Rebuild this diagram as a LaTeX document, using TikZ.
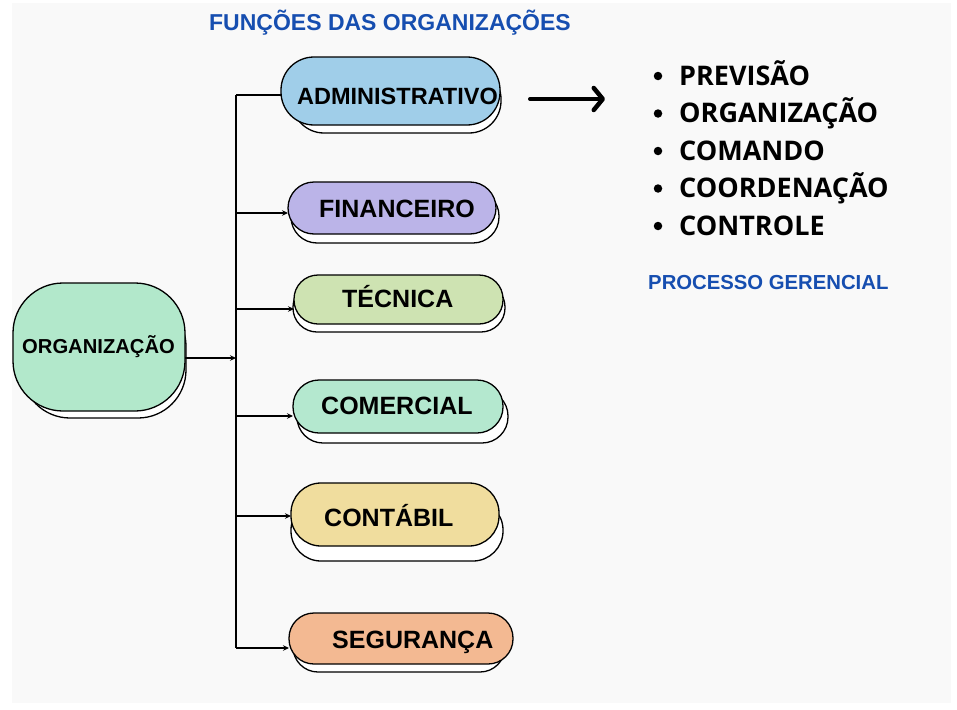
\documentclass[tikz,border=0pt]{standalone}
\usepackage{fontspec}
\setmainfont{Liberation Sans}
\newfontfamily\listfont{Open Sans}
\usetikzlibrary{arrows.meta}
\definecolor{bgc}{RGB}{249,249,249}
\definecolor{ttl}{RGB}{22,78,176}
\definecolor{cadm}{RGB}{160,206,233}
\definecolor{cfin}{RGB}{187,180,232}
\definecolor{ctec}{RGB}{206,227,178}
\definecolor{ccom}{RGB}{180,232,207}
\definecolor{ccont}{RGB}{240,221,158}
\definecolor{cseg}{RGB}{243,185,146}
\definecolor{corg}{RGB}{178,232,203}
\tikzset{
  box/.style={draw=black, line width=1.3pt, inner sep=0pt, outer sep=0pt},
  shadowbox/.style={draw=black, fill=white, line width=1.3pt},
  lbl/.style={anchor=base west, inner sep=0pt, font=\bfseries\fontsize{25}{28}\selectfont},
  conn/.style={line width=1.3pt},
  tip/.style={conn, -{Stealth[length=6pt,width=5.5pt]}},
  item/.style={anchor=base west, inner sep=0pt, font=\listfont\bfseries\fontsize{27}{30}\selectfont},
  bul/.style={circle, fill=black, inner sep=0pt, minimum size=8.5pt}
}
\begin{document}
\begin{tikzpicture}[x=1pt,y=-1pt]
\useasboundingbox (0,0) rectangle (957,709);
\fill[white] (0,0) rectangle (957,709);
\fill[bgc] (12,3) rectangle (951,703);

% title
\node[anchor=base, inner sep=0pt, text=ttl, font=\bfseries\fontsize{23}{26}\selectfont] (title) at (390,31) {FUNÇÕES DAS ORGANIZAÇÕES};

% shadows
\draw[shadowbox, rounded corners=48pt] (22,298) rectangle (186,418);
\draw[shadowbox, rounded corners=32pt] (292,67) rectangle (501,133);
\draw[shadowbox, rounded corners=26pt] (291,190) rectangle (499,243);
\draw[shadowbox, rounded corners=24pt] (293,283) rectangle (505,332);
\draw[shadowbox, rounded corners=26pt] (297,390) rectangle (508,443);
\draw[shadowbox, rounded corners=30pt] (291,500) rectangle (503,561);
\draw[shadowbox, rounded corners=25pt] (293,622) rectangle (505,672);

% boxes
\node[box, fill=corg, rounded corners=50pt, minimum width=172pt, minimum height=128pt] (org) at (99,347) {};
\node[box, fill=cadm, rounded corners=33pt, minimum width=219pt, minimum height=68pt] (adm) at (390.5,91) {};
\node[box, fill=cfin, rounded corners=26pt, minimum width=208pt, minimum height=52pt] (fin) at (392,208) {};
\node[box, fill=ctec, rounded corners=24pt, minimum width=209pt, minimum height=49pt] (tec) at (398.5,299.5) {};
\node[box, fill=ccom, rounded corners=26pt, minimum width=210pt, minimum height=53pt] (com) at (398,406.5) {};
\node[box, fill=ccont, rounded corners=30pt, minimum width=208pt, minimum height=63pt] (cont) at (395,514.5) {};
\node[box, fill=cseg, rounded corners=25pt, minimum width=224pt, minimum height=51pt] (seg) at (401,638.5) {};

% labels
\node[lbl, font=\bfseries\fontsize{20.2}{24}\selectfont] (orgT) at (22,353) {ORGANIZAÇÃO};
\node[lbl, font=\bfseries\fontsize{23.5}{26}\selectfont] (admT) at (297,104) {ADMINISTRATIVO};
\node[lbl] (finT) at (319,217) {FINANCEIRO};
\node[lbl] (tecT) at (342,307) {TÉCNICA};
\node[lbl] (comT) at (321,414) {COMERCIAL};
\node[lbl] (contT) at (324,526) {CONTÁBIL};
\node[lbl] (segT) at (332,648) {SEGURANÇA};

% connectors
\coordinate (top) at (236,95);
\coordinate (bot) at (236,648);
\draw[conn] (top) -- (bot);
\draw[conn] (top) -- (adm.west |- top);
\draw[tip] ([yshift=-11pt]org.east) -- ([yshift=-11pt]org.east -| top);
\draw[tip] ([yshift=-5pt]fin.west -| top) -- ([yshift=-5pt]fin.west);
\draw[tip] ([yshift=-9.5pt]tec.west -| top) -- ([yshift=-9.5pt]tec.west);
\draw[tip] ([yshift=-9.5pt]com.west -| top) -- ([yshift=-9.5pt]com.west);
\draw[tip] ([yshift=-1.5pt]cont.west -| top) -- ([yshift=-1.5pt]cont.west);
\draw[tip] (bot) -- (bot -| seg.west);

% big arrow
\coordinate (a1) at (530,99);
\coordinate (a2) at (605,99);
\draw[line width=4pt, line cap=round, -{Straight Barb[length=9pt,width=22pt,line width=4.5pt, round]}] (a1) -- (a2);

% list
\node[item] (i1) at (679,85) {PREVISÃO};
\node[item] (i2) at (679,122.5) {ORGANIZAÇÃO};
\node[item] (i3) at (679,160) {COMANDO};
\node[item] (i4) at (679,197.5) {COORDENAÇÃO};
\node[item] (i5) at (679,235) {CONTROLE};
\node[bul] (b1) at (658,76) {};
\node[bul] (b2) at (658,113.5) {};
\node[bul] (b3) at (658,151) {};
\node[bul] (b4) at (658,188.5) {};
\node[bul] (b5) at (658,226) {};

\node[anchor=base west, inner sep=0pt, text=ttl, font=\bfseries\fontsize{20.3}{24}\selectfont] (proc) at (648,289) {PROCESSO GERENCIAL};
\end{tikzpicture}
\end{document}
